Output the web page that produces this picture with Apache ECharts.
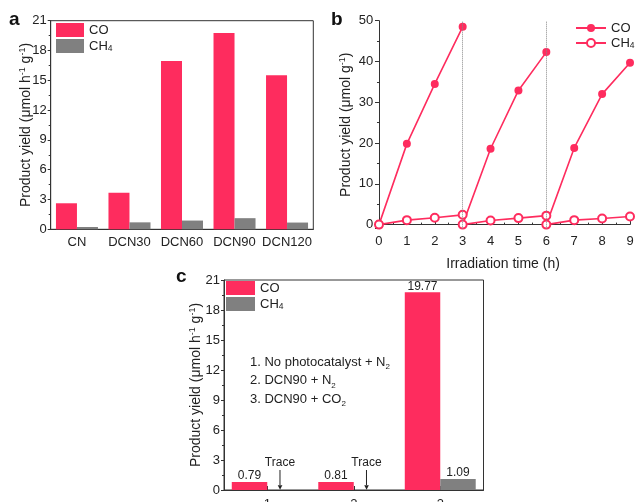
<!DOCTYPE html>
<html><head><meta charset="utf-8">
<script src="https://cdn.jsdelivr.net/npm/echarts@6/dist/echarts.min.js"></script>
<style>html,body{margin:0;padding:0;background:#fff}#chart{width:636px;height:502px}</style>
</head><body><div id="chart"></div>
<script>
// ---- Panel a data ----
const catA = ['CN', 'DCN30', 'DCN60', 'DCN90', 'DCN120'];
const coA = [2.62, 3.68, 16.94, 19.77, 15.5];
const ch4A = [0.23, 0.7, 0.88, 1.12, 0.68];
// ---- Panel b data (three irradiation cycles) ----
const timeC1 = [0, 1, 2, 3];
const timeC2 = [3, 4, 5, 6];
const timeC3 = [6, 7, 8, 9];
const coB1 = [0, 19.8, 34.5, 48.5];
const coB2 = [0, 18.6, 32.9, 42.3];
const coB3 = [0, 18.8, 32.0, 39.7];
const ch4B1 = [0, 1.1, 1.7, 2.4];
const ch4B2 = [0, 1.0, 1.6, 2.2];
const ch4B3 = [0, 1.1, 1.5, 2.0];
const cycleBreaks = [3, 6];
// ---- Panel c data ----
const catC = ['1', '2', '3'];
const coC = [0.79, 0.81, 19.77];
const ch4C = [0, 0, 1.09];
const notesC = ['1. No photocatalyst + N{sub|2}', '2. DCN90 + N{sub|2}', '3. DCN90 + CO{sub|2}'];

const PINK = '#fe2c5e';
const GREY = '#808080';
const FONT = 'Liberation Sans, Arial, sans-serif';
const TXT = '#222';
const AXC = '#333';

const legendName = n => { const s = n.split('-')[1]; return s === 'CH4' ? 'CH{sub|4}' : s; };
const legendText = { fontSize: 13, lineHeight: 14, color: TXT, fontFamily: FONT,
  rich: { sub: { fontSize: 8.5, lineHeight: 8, verticalAlign: 'bottom', color: TXT, fontFamily: FONT } } };
const nameStyle = { fontSize: 14, lineHeight: 16, color: TXT, fontFamily: FONT,
  rich: { sup: { fontSize: 9, lineHeight: 9, verticalAlign: 'top', color: TXT, fontFamily: FONT } } };
const labelStyle = { fontSize: 13, color: TXT, fontFamily: FONT };
const axisLine = { show: true, lineStyle: { color: AXC, width: 1 } };
const zip = (xs, ys) => xs.map((x, i) => [x, ys[i]]);

const chart = echarts.init(document.getElementById('chart'), null, { renderer: 'canvas' });

const lineSeries = [];
[[timeC1, coB1], [timeC2, coB2], [timeC3, coB3]].forEach(([t, v], i) => {
  const s = { type: 'line', name: 'b-CO', xAxisIndex: 1, yAxisIndex: 1, data: zip(t, v),
    symbol: 'circle', symbolSize: 8, lineStyle: { color: PINK, width: 1.6 },
    itemStyle: { color: PINK }, z: 3 };
  if (i === 0) {
    s.markLine = { silent: true, symbol: 'none', label: { show: false },
      lineStyle: { color: '#888', type: 'dotted', width: 1 },
      data: cycleBreaks.map(x => ({ xAxis: x })) };
  }
  lineSeries.push(s);
});
[[timeC1, ch4B1], [timeC2, ch4B2], [timeC3, ch4B3]].forEach(([t, v]) => {
  lineSeries.push({ type: 'line', name: 'b-CH4', xAxisIndex: 1, yAxisIndex: 1, data: zip(t, v),
    symbol: 'emptyCircle', symbolSize: 8, lineStyle: { color: PINK, width: 1.6 },
    itemStyle: { color: PINK, borderColor: PINK, borderWidth: 1.3 }, z: 4 });
});

const titleStyle = { fontSize: 19, fontWeight: 'bold', color: '#111', fontFamily: FONT };

const option = {
  animation: false,
  backgroundColor: '#fff',
  textStyle: { fontFamily: FONT },
  title: [
    { text: 'a', left: 9, top: 10, padding: 0, textStyle: titleStyle },
    { text: 'b', left: 331, top: 10, padding: 0, textStyle: titleStyle },
    { text: 'c', left: 176, top: 267, padding: 0, textStyle: titleStyle }
  ],
  legend: [
    { data: ['a-CO', 'a-CH4'], left: 56, top: 23, orient: 'vertical', padding: 0, itemGap: 2,
      itemWidth: 28, itemHeight: 14, icon: 'rect', formatter: legendName, textStyle: legendText, selectedMode: false },
    { data: ['b-CO', 'b-CH4'], left: 575, top: 21, orient: 'vertical', padding: 0, itemGap: 1,
      itemWidth: 30, itemHeight: 10, formatter: legendName, textStyle: legendText, selectedMode: false },
    { data: ['c-CO', 'c-CH4'], left: 226, top: 281, orient: 'vertical', padding: 0, itemGap: 2,
      itemWidth: 29, itemHeight: 14, icon: 'rect', formatter: legendName, textStyle: legendText, selectedMode: false }
  ],
  grid: [
    { left: 50.7, top: 20.7, width: 262.6, height: 208.6, show: true, borderColor: AXC, borderWidth: 1,
      backgroundColor: 'transparent', containLabel: false, outerBoundsMode: 'none' },
    { left: 376.2, top: 20.7, width: 253.8, height: 208, containLabel: false, outerBoundsMode: 'none' },
    { left: 224, top: 280, width: 259.5, height: 210, show: true, borderColor: AXC, borderWidth: 1,
      backgroundColor: 'transparent', containLabel: false, outerBoundsMode: 'none' }
  ],
  xAxis: [
    { gridIndex: 0, type: 'category', data: catA, axisLine, axisTick: { show: false },
      axisLabel: Object.assign({ margin: 7, interval: 0 }, labelStyle) },
    { gridIndex: 1, type: 'value', min: -0.1, max: 9, splitNumber: 9, axisLine, splitLine: { show: false },
      axisTick: { show: true, inside: true, length: 4, lineStyle: { color: AXC } },
      minorTick: { show: true, splitNumber: 2, length: 2, lineStyle: { color: AXC } },
      axisLabel: Object.assign({ margin: 6, showMinLabel: true, formatter: v => (v < 0 ? '' : String(v)) }, labelStyle),
      name: 'Irradiation time (h)', nameLocation: 'middle', nameGap: 27, nameTextStyle: nameStyle },
    { gridIndex: 2, type: 'category', data: catC, axisLine,
      axisTick: { show: true, inside: true, alignWithLabel: true, length: 4, lineStyle: { color: AXC } },
      axisLabel: Object.assign({ margin: 8 }, labelStyle) }
  ],
  yAxis: [
    { gridIndex: 0, type: 'value', min: 0, max: 21, interval: 3, axisLine, splitLine: { show: false },
      axisTick: { show: true, length: 3, lineStyle: { color: AXC } },
      minorTick: { show: true, splitNumber: 2, length: 2, lineStyle: { color: AXC } },
      axisLabel: Object.assign({ margin: 4 }, labelStyle),
      name: 'Product yield (μmol h{sup|-1} g{sup|-1})', nameLocation: 'middle', nameGap: 17,
      nameMoveOverlap: false, nameTextStyle: nameStyle },
    { gridIndex: 1, type: 'value', min: -1, max: 50, splitNumber: 5, axisLine, splitLine: { show: false },
      axisTick: { show: true, length: 4, lineStyle: { color: AXC } },
      minorTick: { show: true, splitNumber: 2, length: 2, lineStyle: { color: AXC } },
      axisLabel: Object.assign({ margin: 3, formatter: v => (v < 0 ? '' : String(v)) }, labelStyle),
      name: 'Product yield (μmol g{sup|-1})', nameLocation: 'middle', nameGap: 22,
      nameMoveOverlap: false, nameTextStyle: nameStyle },
    { gridIndex: 2, type: 'value', min: 0, max: 21, interval: 3, axisLine, splitLine: { show: false },
      axisTick: { show: true, length: 3, lineStyle: { color: AXC } },
      minorTick: { show: true, splitNumber: 2, length: 2, lineStyle: { color: AXC } },
      axisLabel: Object.assign({ margin: 4 }, labelStyle),
      name: 'Product yield (μmol h{sup|-1} g{sup|-1})', nameLocation: 'middle', nameGap: 20,
      nameMoveOverlap: false, nameTextStyle: nameStyle }
  ],
  series: [
    { type: 'bar', name: 'a-CO', xAxisIndex: 0, yAxisIndex: 0, data: coA, barGap: '0%', barCategoryGap: '20%',
      itemStyle: { color: PINK } },
    { type: 'bar', name: 'a-CH4', xAxisIndex: 0, yAxisIndex: 0, data: ch4A, barGap: '0%', barCategoryGap: '20%',
      itemStyle: { color: GREY } },
    ...lineSeries,
    { type: 'bar', name: 'c-CO', xAxisIndex: 2, yAxisIndex: 2, data: coC, barGap: '0%', barCategoryGap: '18%',
      itemStyle: { color: PINK },
      label: { show: true, position: 'top', distance: 0, fontSize: 12, color: TXT, fontFamily: FONT,
        formatter: p => p.value.toFixed(2) } },
    { type: 'bar', name: 'c-CH4', xAxisIndex: 2, yAxisIndex: 2, barGap: '0%', barCategoryGap: '18%',
      data: ch4C.map(v => (v === 0 ? { value: v, label: { offset: [-5, 0], distance: 0 } } : v)),
      itemStyle: { color: GREY },
      label: { show: true, position: 'top', distance: 0, fontSize: 12, color: TXT, fontFamily: FONT,
        formatter: p => (p.value === 0 ? '{t|Trace}\n{l| }\n{h|▼}' : p.value.toFixed(2)),
        rich: {
          t: { fontSize: 12, lineHeight: 15, color: TXT, fontFamily: FONT },
          l: { width: 1, height: 15, lineHeight: 15, backgroundColor: '#222', fontSize: 1 },
          h: { fontSize: 6, lineHeight: 5, color: '#222', fontFamily: 'DejaVu Sans' }
        } } }
  ],
  graphic: notesC.map((t, i) => ({
    type: 'text', left: 250, top: 354 + i * 18.3, silent: true,
    style: { text: t, font: '13px ' + FONT, fill: TXT, lineHeight: 17,
      rich: { sub: { fontSize: 8, lineHeight: 8, verticalAlign: 'bottom', fill: TXT, fontFamily: FONT } } }
  }))
};
chart.setOption(option);
</script></body></html>
